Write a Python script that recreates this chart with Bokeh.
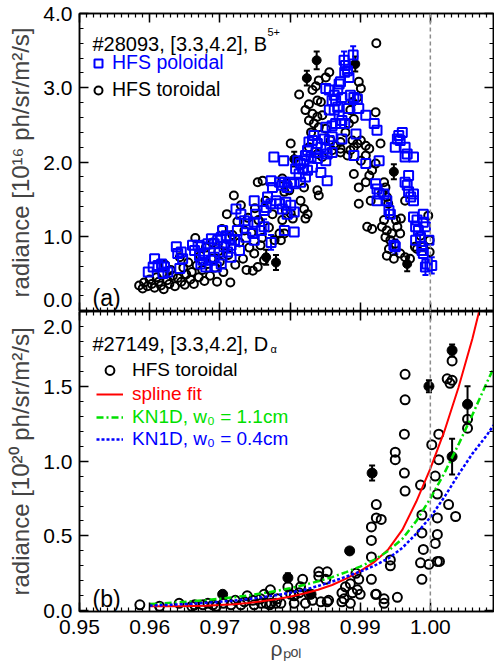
from bokeh.plotting import figure
from bokeh.models import (LinearAxis, SingleIntervalTicker, PrintfTickFormatter, Span, Label,
                          Whisker, TeeHead, ColumnDataSource, Legend, LegendItem, Range1d)
from bokeh.layouts import column
from bokeh.embed import file_html
from bokeh.resources import INLINE

FONT = "Liberation Sans"
BLUE = "#0000ff"
GREEN = "#00e000"
RED = "#ff0000"

# ---------------- panel (a): #28093, B5+ ----------------
tor_rho = [0.9585, 0.9590, 0.9592, 0.9597, 0.9600, 0.9603, 0.9607, 0.9610, 0.9613, 0.9616, 0.9618, 0.9620,
           0.9622, 0.9625, 0.9628, 0.9630, 0.9633, 0.9636, 0.9640, 0.9643, 0.9645, 0.9648, 0.9650, 0.9652,
           0.9655, 0.9658, 0.9660, 0.9663, 0.9665, 0.9667, 0.9670, 0.9672, 0.9675, 0.9678, 0.9680, 0.9683,
           0.9686, 0.9688, 0.9690, 0.9693, 0.9696, 0.9698, 0.9700, 0.9703, 0.9705, 0.9708, 0.9710, 0.9712,
           0.9715, 0.9718, 0.9720, 0.9722, 0.9725, 0.9728, 0.9730, 0.9733, 0.9735, 0.9738, 0.9740, 0.9742,
           0.9747, 0.9754, 0.9749, 0.9758, 0.9763, 0.9754, 0.9761, 0.9745, 0.9750, 0.9755, 0.9760, 0.9765,
           0.9770, 0.9775, 0.9778, 0.9789, 0.9792, 0.9796, 0.9799, 0.9801, 0.9794, 0.9789, 0.9792, 0.9785,
           0.9787, 0.9804, 0.9815, 0.9820, 0.9825, 0.9822, 0.9820, 0.9801, 0.9813, 0.9839, 0.9841, 0.9827,
           0.9822, 0.9832, 0.9839, 0.9846, 0.9827, 0.9834, 0.9841, 0.9851, 0.9830, 0.9858, 0.9832, 0.9837,
           0.9841, 0.9851, 0.9856, 0.9839, 0.9844, 0.9839, 0.9827, 0.9846, 0.9865, 0.9860, 0.9872, 0.9882,
           0.9886, 0.9891, 0.9896, 0.9872, 0.9889, 0.9879, 0.9884, 0.9891, 0.9886, 0.9889, 0.9896, 0.9901,
           0.9898, 0.9891, 0.9898, 0.9898, 0.9872, 0.9901, 0.9908, 0.9913, 0.9908, 0.9901, 0.9908, 0.9913,
           0.9917, 0.9922, 0.9929, 0.9922, 0.9923, 0.9915, 0.9934, 0.9936, 0.9931, 0.9938, 0.9910, 0.9917,
           0.9934, 0.9931, 0.9938, 0.9936, 0.9940, 0.9945, 0.9951, 0.9958, 0.9953, 0.9943, 0.9950, 0.9941,
           0.9938, 0.9948, 0.9957, 0.9964, 0.9971, 0.9978, 0.9964, 0.9957, 0.9986, 0.9990, 0.9999, 0.9999,
           0.9997, 0.9981]
tor_val = [0.34, 0.30, 0.38, 0.33, 0.42, 0.36, 0.31, 0.45, 0.39, 0.34, 0.50, 0.29,
           0.62, 0.41, 0.36, 0.55, 0.47, 0.33, 0.44, 0.72, 0.39, 0.58, 0.35, 0.49,
           0.65, 0.42, 0.52, 0.36, 0.98, 0.61, 0.45, 0.74, 0.55, 0.40, 0.85, 0.63,
           0.47, 0.70, 0.92, 0.58, 0.39, 0.80, 0.66, 1.10, 0.52, 0.88, 1.30, 0.75,
           0.38, 1.02, 1.55, 0.62, 1.20, 0.92, 1.42, 0.70, 1.08, 0.55, 1.25, 0.85,
           0.54, 0.59, 0.77, 0.88, 0.68, 1.73, 1.75, 1.05, 1.38, 1.22, 0.98, 1.48,
           1.12, 1.30, 0.95, 1.78, 1.60, 1.71, 1.62, 1.31, 1.35, 1.22, 1.04, 1.04,
           0.95, 1.24, 1.48, 1.37, 1.30, 1.24, 1.66, 2.25, 2.91, 1.62, 1.55, 2.78,
           2.70, 2.65, 2.61, 2.63, 2.56, 2.52, 2.47, 2.45, 2.40, 2.29, 2.97, 3.02,
           3.10, 3.14, 3.21, 2.83, 2.81, 2.11, 2.20, 2.07, 2.22, 2.16, 2.18, 2.09,
           2.16, 2.20, 2.25, 2.27, 2.29, 2.40, 2.52, 2.58, 2.70, 2.81, 2.87, 2.99,
           3.08, 1.84, 1.66, 1.44, 2.13, 2.29, 2.22, 2.18, 2.09, 2.02, 1.73, 1.82,
           1.89, 1.98, 2.25, 2.67, 3.60, 1.48, 1.73, 1.66, 1.58, 1.53, 1.13, 1.10,
           1.22, 1.13, 1.08, 0.99, 1.44, 1.04, 1.22, 1.24, 1.13, 0.95, 0.90, 0.83,
           0.74, 0.70, 0.77, 0.72, 0.70, 0.86, 1.48, 1.04, 1.01, 0.86, 0.95, 0.79,
           1.28, 0.83]

tor_err_rho = [0.9766, 0.9780, 0.9806, 0.9824, 0.9838, 0.9893, 0.9948, 0.9967]
tor_err_val = [0.72, 0.65, 2.04, 3.13, 3.37, 3.32, 1.87, 0.63]
tor_err = [0.10, 0.10, 0.10, 0.10, 0.12, 0.10, 0.10, 0.10]

pol_rho = [0.9598, 0.9605, 0.9607, 0.9612, 0.9617, 0.9621, 0.9626, 0.9619, 0.9638, 0.9640, 0.9645, 0.9643,
           0.9647, 0.9661, 0.9664, 0.9669, 0.9673, 0.9671, 0.9676, 0.9673, 0.9680, 0.9678, 0.9683, 0.9688,
           0.9692, 0.9697, 0.9702, 0.9704, 0.9709, 0.9714, 0.9692, 0.9699, 0.9706, 0.9711, 0.9716, 0.9721,
           0.9725, 0.9723, 0.9730, 0.9735, 0.9740, 0.9688, 0.9695, 0.9702, 0.9716, 0.9728, 0.9737,
           0.9749, 0.9751, 0.9749, 0.9747, 0.9749, 0.9759, 0.9768, 0.9773, 0.9766, 0.9763, 0.9773, 0.9775,
           0.9777, 0.9780, 0.9785, 0.9789, 0.9794, 0.9801, 0.9806, 0.9796, 0.9792, 0.9806, 0.9785, 0.9789,
           0.9792, 0.9796, 0.9801, 0.9806, 0.9791, 0.9815, 0.9822, 0.9813, 0.9808, 0.9818, 0.9825, 0.9832,
           0.9844, 0.9853, 0.9820, 0.9815, 0.9811, 0.9822, 0.9830, 0.9839, 0.9851, 0.9825, 0.9837, 0.9853,
           0.9860, 0.9839, 0.9844, 0.9851, 0.9827, 0.9832, 0.9834, 0.9849, 0.9856, 0.9860, 0.9874, 0.9851,
           0.9860, 0.9865, 0.9872, 0.9878, 0.9874, 0.9870, 0.9856, 0.9863, 0.9868, 0.9883, 0.9860, 0.9865,
           0.9863, 0.9874, 0.9886, 0.9891, 0.9896, 0.9851, 0.9856, 0.9868, 0.9870, 0.9872, 0.9884, 0.9878,
           0.9882, 0.9879, 0.9898, 0.9908, 0.9894, 0.9891, 0.9920, 0.9924, 0.9908, 0.9927, 0.9922, 0.9924,
           0.9927, 0.9924, 0.9934, 0.9938, 0.9943, 0.9960, 0.9955, 0.9953, 0.9957, 0.9950, 0.9964, 0.9967,
           0.9976, 0.9964, 0.9969, 0.9964, 0.9967, 0.9969, 0.9972, 0.9976, 0.9976, 0.9976, 0.9981, 0.9979,
           0.9983, 0.9979, 0.9986, 0.9990, 0.9990, 0.9993, 0.9988, 0.9988, 0.9990, 0.9998, 0.9995, 0.9948]
pol_val = [0.52, 0.59, 0.70, 0.61, 0.63, 0.59, 0.52, 0.50, 0.86, 0.77, 0.79, 0.57,
           0.70, 0.88, 0.81, 0.88, 0.86, 0.74, 0.68, 0.63, 0.59, 0.77, 0.90, 0.97,
           0.90, 0.95, 0.99, 1.08, 1.01, 0.97, 0.72, 0.79, 0.86, 0.79, 0.88, 0.95,
           1.08, 1.37, 1.30, 1.21, 1.17, 0.68, 0.59, 0.63, 0.72, 0.81, 0.99,
           1.48, 1.30, 1.19, 1.04, 0.95, 1.08, 1.53, 1.44, 1.39, 1.35, 1.75, 1.66,
           2.07, 1.48, 1.44, 1.37, 1.46, 1.42, 1.33, 1.30, 1.08, 1.06, 1.73, 1.69,
           1.73, 1.66, 1.73, 1.71, 2.02, 1.73, 1.80, 1.84, 1.91, 1.91, 1.89, 1.93,
           1.86, 1.75, 2.02, 1.98, 2.02, 2.09, 2.07, 2.05, 2.02, 2.16, 2.13, 2.11,
           2.13, 2.25, 2.20, 2.18, 2.27, 2.29, 2.36, 2.31, 2.29, 2.34, 2.31, 2.47,
           2.49, 2.52, 2.52, 2.52, 2.56, 2.63, 2.70, 2.70, 2.74, 2.72, 2.83, 2.83,
           2.90, 2.87, 2.90, 2.87, 2.85, 2.99, 2.97, 2.97, 3.05, 3.08, 3.14, 3.21,
           3.23, 3.30, 2.72, 2.63, 2.38, 2.09, 2.52, 2.43, 1.98, 2.02, 1.71, 1.64,
           1.57, 1.48, 1.57, 1.48, 1.30, 2.40, 2.36, 2.31, 2.29, 2.20, 2.20, 2.11,
           2.07, 2.07, 1.82, 1.73, 1.69, 1.60, 1.53, 1.57, 1.48, 1.26, 1.22, 1.13,
           1.08, 0.95, 0.99, 1.30, 1.19, 1.13, 0.86, 0.81, 0.77, 0.95, 0.63, 0.88]

pol_err_rho = [0.9877, 0.9890, 0.9763, 0.9773, 0.9941, 0.9950, 1.0002, 0.9993]
pol_err_val = [3.37, 3.44, 1.13, 0.92, 1.35, 0.86, 0.61, 0.59]
pol_err = [0.12, 0.12, 0.10, 0.10, 0.10, 0.10, 0.11, 0.11]

# ---------------- panel (b): #27149, D_alpha ----------------
dal_rho = [1.0031, 1.0024, 1.0028, 1.0031, 0.9964, 0.9964, 0.9963, 0.9950, 0.9950, 0.9963, 0.9964,
           0.9923, 0.9923, 0.9930, 0.9916, 0.9916, 0.9916, 0.9916, 0.9923, 0.9934, 0.9953, 0.9986,
           0.9988, 0.9988, 0.9990, 0.9986, 0.9998, 0.9988, 1.0002, 1.0012, 1.0012, 1.0007, 1.0010,
           1.0010, 1.0010, 1.0007, 1.0010, 1.0013, 1.0026, 1.0036, 1.0053, 1.0053, 0.9943, 0.9943,
           0.9772, 0.9797, 0.9815, 0.9818, 0.9813, 0.9841, 0.9841, 0.9853, 0.9851, 0.9886, 0.9879,
           0.9874, 0.9877, 0.9894, 0.9898, 0.9896, 0.9900, 0.9889, 0.9763, 0.9758, 0.9806, 0.9855,
           0.9801, 0.9806, 0.9827, 0.9832, 0.9822, 0.9844, 0.9853, 0.9874, 0.9886, 0.9922, 0.9934,
           0.9766, 0.9773, 0.9780, 0.9787, 0.9782, 0.9747, 0.9586, 0.9614, 0.9642, 0.9664, 0.9676,
           0.9683, 0.9690, 0.9716, 0.9730, 0.9739, 0.9749, 0.9759, 0.9771, 0.9660, 0.9695, 0.9705,
           0.9722, 0.9735]
dal_val = [1.67, 1.55, 1.52, 1.54, 1.58, 1.41, 1.18, 1.06, 1.01, 0.92, 0.80,
           0.71, 0.62, 0.61, 0.56, 0.47, 0.36, 0.21, 0.11, 0.08, 0.09, 0.84,
           0.64, 0.52, 0.41, 0.32, 0.31, 0.21, 1.11, 1.18, 1.01, 0.90, 0.78,
           0.62, 0.51, 0.45, 0.33, 0.33, 0.71, 0.63, 1.28, 1.22, 0.34, 0.30,
           0.14, 0.16, 0.16, 0.21, 0.12, 0.26, 0.23, 0.26, 0.21, 0.18, 0.16,
           0.12, 0.08, 0.25, 0.21, 0.14, 0.11, 0.12, 0.11, 0.08, 0.10, 0.07,
           0.11, 0.05, 0.11, 0.07, 0.05, 0.06, 0.06, 0.06, 0.05, 0.11, 0.05,
           0.05, 0.05, 0.05, 0.05, 0.08, 0.07, 0.04, 0.03, 0.05, 0.04, 0.04,
           0.05, 0.04, 0.04, 0.04, 0.10, 0.04, 0.05, 0.04, 0.03, 0.03, 0.05,
           0.07, 0.06]

dal_err_rho = [1.0031, 0.9998, 1.0053, 1.0031, 0.9917, 0.9885, 0.9797, 0.9704, 0.9830]
dal_err_val = [1.74, 1.50, 1.38, 1.03, 0.92, 0.40, 0.22, 0.11, 0.11]
dal_err = [0.04, 0.04, 0.12, 0.12, 0.05, 0.02, 0.03, 0.02, 0.02]

fit_rho = [0.960, 0.962, 0.964, 0.966, 0.968, 0.970, 0.972, 0.974, 0.976, 0.978, 0.980, 0.982, 0.984,
           0.986, 0.988, 0.990, 0.992, 0.994, 0.996, 0.998, 1.000, 1.002, 1.004, 1.006, 1.008, 1.009]
spline_fit = [0.030, 0.030, 0.030, 0.032, 0.034, 0.038, 0.044, 0.052, 0.063, 0.077, 0.094, 0.115, 0.140,
              0.172, 0.215, 0.265, 0.325, 0.410, 0.540, 0.730, 0.950, 1.200, 1.490, 1.820, 2.200, 2.400]
kn1d_11 = [0.045, 0.050, 0.056, 0.063, 0.071, 0.080, 0.090, 0.102, 0.116, 0.132, 0.150, 0.172, 0.197,
           0.225, 0.258, 0.295, 0.340, 0.400, 0.480, 0.600, 0.750, 0.920, 1.110, 1.310, 1.520, 1.620]
kn1d_04 = [0.035, 0.038, 0.042, 0.047, 0.053, 0.060, 0.068, 0.078, 0.090, 0.104, 0.120, 0.140, 0.165,
           0.195, 0.228, 0.262, 0.300, 0.350, 0.420, 0.515, 0.625, 0.760, 0.910, 1.050, 1.170, 1.240]

x_ticks_fmt = "%.2f"


def make_axis(interval, minor, fmt=None, show=False, size="21px", standoff=7):
    ax = LinearAxis(ticker=SingleIntervalTicker(interval=interval, num_minor_ticks=minor))
    ax.major_tick_in = 9
    ax.major_tick_out = 0
    ax.minor_tick_in = 4
    ax.minor_tick_out = 0
    ax.axis_line_width = 1.5
    ax.major_tick_line_width = 1.5
    ax.minor_tick_line_width = 1.2
    if show:
        ax.formatter = PrintfTickFormatter(format=fmt)
        ax.major_label_text_font = FONT
        ax.major_label_text_font_size = size
        ax.major_label_text_color = "black"
        ax.major_label_standoff = standoff
    else:
        ax.major_label_text_font_size = "1px"
        ax.major_label_text_color = None
        ax.major_label_standoff = 0
    return ax


def base_fig(height, y0, y1, top, bottom):
    p = figure(width=494, height=height, x_range=Range1d(0.95, 1.009), y_range=Range1d(y0, y1),
               x_axis_type=None, y_axis_type=None, output_backend="svg", toolbar_location=None,
               min_border_left=79, min_border_right=1, min_border_top=top, min_border_bottom=bottom)
    p.outline_line_color = "black"
    p.outline_line_width = 1.5
    p.background_fill_color = "white"
    p.border_fill_color = "white"
    p.add_layout(Span(location=1.0, dimension="height", line_color="#8c8c8c",
                      line_dash="4 3", line_width=1.5))
    return p


def legend_one(p, renderer, text, color, x, y, gw, gh, standoff, size):
    leg = Legend(items=[LegendItem(label=text, renderers=[renderer])], location=(x, y),
                 border_line_color=None, background_fill_alpha=0, padding=0, margin=0, spacing=0,
                 glyph_width=gw, glyph_height=gh, label_height=gh, label_standoff=standoff,
                 label_text_font=FONT, label_text_font_size=size, label_text_color=color)
    p.add_layout(leg)


def lab(p, x, y, text, dx, dy, size, color="black", align="left", baseline="alphabetic"):
    p.add_layout(Label(x=x, y=y, x_offset=dx, y_offset=dy, text=text, text_font=FONT,
                       text_font_size=size, text_color=color, text_align=align,
                       text_baseline=baseline))


# ---------- top figure ----------
p1 = base_fig(311, -0.01, 4.0, 13, 0)
yl = make_axis(1.0, 5, "%.1f", True)
yl.major_label_overrides = {0: "0.0\n "}
yl.major_label_text_line_height = 0.02
yl.axis_label = "radiance [10¹⁶ ph/sr/m²/s]"
yl.axis_label_text_font = FONT
yl.axis_label_text_font_size = "24px"
yl.axis_label_text_font_style = "normal"
yl.axis_label_standoff = 6
p1.add_layout(yl, "left")
p1.add_layout(make_axis(1.0, 5), "right")
p1.add_layout(make_axis(0.01, 10), "above")
p1.add_layout(make_axis(0.01, 10), "below")

s_tor = ColumnDataSource(dict(x=tor_rho, y=tor_val))
r_tor = p1.scatter("x", "y", source=s_tor, marker="circle", size=8, fill_color=None,
                   line_color="black", line_width=2)
s_tore = ColumnDataSource(dict(x=tor_err_rho, y=tor_err_val,
                               lo=[v - e for v, e in zip(tor_err_val, tor_err)],
                               hi=[v + e for v, e in zip(tor_err_val, tor_err)]))
p1.add_layout(Whisker(source=s_tore, base="x", lower="lo", upper="hi", dimension="height",
                      line_color="black", line_width=2,
                      upper_head=TeeHead(size=6, line_color="black", line_width=2),
                      lower_head=TeeHead(size=6, line_color="black", line_width=2)))
p1.scatter("x", "y", source=s_tore, marker="circle", size=9, fill_color="black", line_color="black")

s_pol = ColumnDataSource(dict(x=pol_rho, y=pol_val))
r_pol = p1.scatter("x", "y", source=s_pol, marker="square", size=9, fill_color=None,
                   line_color=BLUE, line_width=2)
s_pole = ColumnDataSource(dict(x=pol_err_rho, y=pol_err_val,
                               lo=[v - e for v, e in zip(pol_err_val, pol_err)],
                               hi=[v + e for v, e in zip(pol_err_val, pol_err)]))
p1.add_layout(Whisker(source=s_pole, base="x", lower="lo", upper="hi", dimension="height",
                      line_color=BLUE, line_width=2,
                      upper_head=TeeHead(size=6, line_color=BLUE, line_width=2),
                      lower_head=TeeHead(size=6, line_color=BLUE, line_width=2)))
p1.scatter("x", "y", source=s_pole, marker="square", size=9, fill_color=None,
           line_color=BLUE, line_width=2)

legend_one(p1, r_pol, "HFS poloidal", BLUE, 9, 237, 20, 20, 4, "19.5px")
legend_one(p1, r_tor, "HFS toroidal", "black", 9, 210, 20, 20, 4, "19.5px")

lab(p1, 0.95, 4.0, "#28093, [3.3,4.2], B", 13, -30, "20px")
lab(p1, 0.95, 4.0, "5+", 188, -18, "11px")
lab(p1, 0.95, -0.01, "(a)", 13, 14, "23px")

# ---------- bottom figure ----------
p2 = base_fig(351, -0.005, 2.0, 0, 51)
yl2 = make_axis(0.5, 5, "%.1f", True)
yl2.major_label_overrides = {2: " \n2.0"}
yl2.major_label_text_line_height = 0.15
yl2.axis_label = "radiance [10²⁰ ph/sr/m²/s]"
yl2.axis_label_text_font = FONT
yl2.axis_label_text_font_size = "24px"
yl2.axis_label_text_font_style = "normal"
yl2.axis_label_standoff = 6
p2.add_layout(yl2, "left")
p2.add_layout(make_axis(0.5, 5), "right")
p2.add_layout(make_axis(0.01, 10), "above")
xb = make_axis(0.01, 10, x_ticks_fmt, True, standoff=8)
xb.axis_label = "ρₚₒₗ"
xb.axis_label_text_font = FONT
xb.axis_label_text_font_size = "21px"
xb.axis_label_text_font_style = "normal"
xb.axis_label_standoff = 0
p2.add_layout(xb, "below")

s_dal = ColumnDataSource(dict(x=dal_rho, y=dal_val))
r_dal = p2.scatter("x", "y", source=s_dal, marker="circle", size=9, fill_color=None,
                   line_color="black", line_width=2)
s_dale = ColumnDataSource(dict(x=dal_err_rho, y=dal_err_val,
                               lo=[v - e for v, e in zip(dal_err_val, dal_err)],
                               hi=[v + e for v, e in zip(dal_err_val, dal_err)]))
p2.add_layout(Whisker(source=s_dale, base="x", lower="lo", upper="hi", dimension="height",
                      line_color="black", line_width=2,
                      upper_head=TeeHead(size=6, line_color="black", line_width=2),
                      lower_head=TeeHead(size=6, line_color="black", line_width=2)))
p2.scatter("x", "y", source=s_dale, marker="circle", size=10, fill_color="black", line_color="black")

r_sp = p2.line(fit_rho, spline_fit, line_color=RED, line_width=2)
r_k11 = p2.line(fit_rho, kn1d_11, line_color=GREEN, line_width=2.5, line_dash="7 3 2 3")
r_k04 = p2.line(fit_rho, kn1d_04, line_color=BLUE, line_width=2.5, line_dash="3 2")

legend_one(p2, r_dal, "HFS toroidal", "black", 17, 230, 27, 22, 9, "19px")
legend_one(p2, r_sp, "spline fit", RED, 17, 206, 27, 22, 9, "19px")
legend_one(p2, r_k11, "KN1D, w₀ = 1.1cm", GREEN, 17, 183, 27, 22, 9, "19px")
legend_one(p2, r_k04, "KN1D, w₀ = 0.4cm", BLUE, 17, 161, 27, 22, 9, "19px")

lab(p2, 0.95, 2.0, "#27149, [3.3,4.2], D", 13, -32, "20px")
lab(p2, 0.95, 2.0, "α", 191, -37, "11px")
lab(p2, 0.95, -0.005, "(b)", 13, 13, "23px")

layout = column(p1, p2, spacing=0)
open("out.html", "w").write(file_html(layout, INLINE))
